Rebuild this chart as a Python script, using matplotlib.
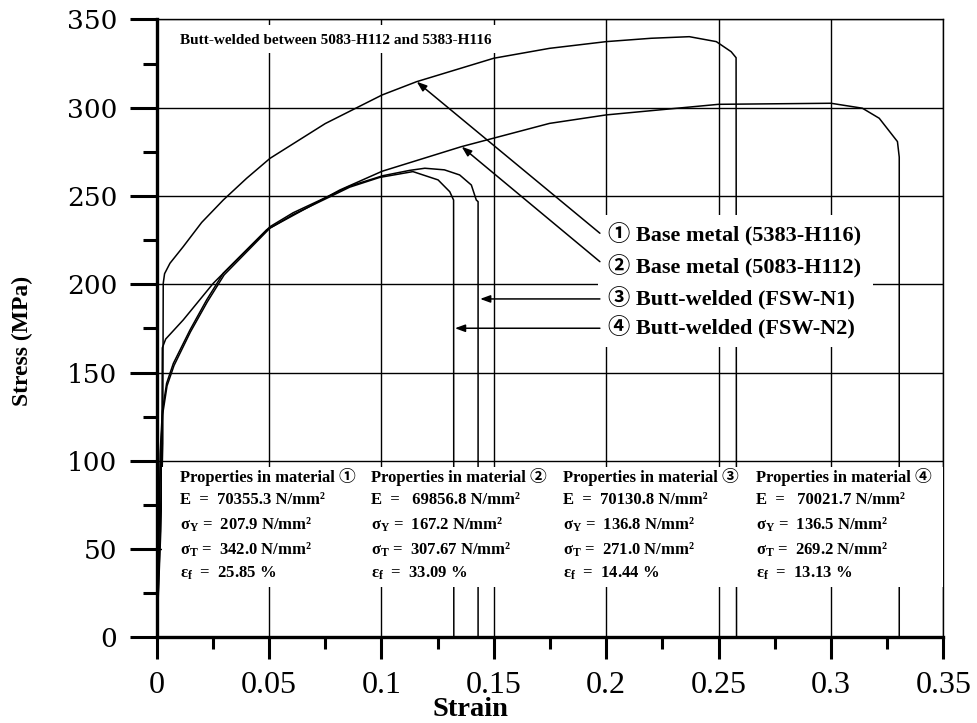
import matplotlib
matplotlib.use("Agg")
import matplotlib.pyplot as plt
from matplotlib.patches import Rectangle
from matplotlib.ticker import MultipleLocator

plt.rcParams["mathtext.fontset"] = "custom"
plt.rcParams["mathtext.rm"] = "Liberation Serif:bold"
plt.rcParams["mathtext.it"] = "Liberation Serif:bold"
plt.rcParams["mathtext.bf"] = "Liberation Serif:bold"

SERIF = ["Liberation Serif", "Noto Sans CJK JP", "DejaVu Sans"]

# ---- curves (strain, stress MPa) ----
c1_strain = [0, 0.0018, 0.0027, 0.0029, 0.0035, 0.0059, 0.0118, 0.0200, 0.0296, 0.0400,
             0.0504, 0.0750, 0.1003, 0.1156, 0.1500, 0.1748, 0.2000, 0.2200, 0.2370,
             0.2490, 0.2556, 0.2578, 0.2580]
c1_stress = [0, 60, 110, 200.5, 206, 211.9, 221.3, 235, 247.7, 260,
             271.3, 291, 307.2, 314.7, 328, 333.6, 337.4, 339.3, 340.2,
             337.4, 331.7, 328.3, 0]

c2_strain = [0, 0.0016, 0.0023, 0.0025, 0.0040, 0.0118, 0.0252, 0.0489, 0.0815, 0.1003,
             0.1355, 0.1748, 0.2000, 0.2500, 0.3000, 0.3140, 0.3215, 0.3296, 0.3304, 0.3304]
c2_stress = [0, 60, 110, 164, 169, 179.8, 200.6, 230.8, 253.4, 264,
             277.9, 291.1, 295.9, 301.9, 302.5, 299.7, 294, 280.8, 272, 0]

c3_strain = [0, 0.0010, 0.0016, 0.0025, 0.0044, 0.0074, 0.0148, 0.0222, 0.0296, 0.0504,
             0.0607, 0.0770, 0.0859, 0.1007, 0.1126, 0.1193, 0.1280, 0.1348, 0.1400,
             0.1422, 0.1430, 0.1430]
c3_stress = [0, 60, 106, 128, 143.9, 155.2, 174.1, 191.1, 206.2, 232.6,
             240.5, 250.2, 255.6, 261.5, 264.5, 265.7, 264.8, 261.9, 256.2,
             247.7, 246.8, 0]

c4_strain = [0, 0.0010, 0.0017, 0.0026, 0.0046, 0.0077, 0.0150, 0.0225, 0.0300, 0.0504,
             0.0607, 0.0770, 0.0859, 0.0992, 0.1140, 0.1252, 0.1304, 0.1321, 0.1322]
c4_stress = [0, 58, 104, 126, 142.5, 154, 173, 190, 205.3, 231.8,
             239.5, 249.5, 255, 260.5, 263.8, 259.1, 252.4, 247.7, 0]

labels = ["\u2460 Base metal (5383-H116)", "\u2461 Base metal (5083-H112)",
          "\u2462 Butt-welded (FSW-N1)", "\u2463 Butt-welded (FSW-N2)"]
# arrow tips on each curve
tip_strain = [0.1157, 0.1357, 0.1439, 0.1327]
tip_stress = [314.7, 277.9, 191.7, 175.1]

prop_titles = ["Properties in material \u2460", "Properties in material \u2461",
               "Properties in material \u2462", "Properties in material \u2463"]
E_vals = ["70355.3", " 69856.8", "70130.8", " 70021.7"]
sy_vals = ["207.9", "167.2", "136.8", "136.5"]
st_vals = ["342.0", "307.67", "271.0", "269.2"]
ef_vals = ["25.85", "33.09", "14.44", "13.13"]

fig = plt.figure(figsize=(9.77, 7.23), dpi=100)
ax = fig.add_axes([0.1604, 0.1183, 0.8051, 0.8549])

for xs, ys in [(c1_strain, c1_stress), (c2_strain, c2_stress),
               (c3_strain, c3_stress), (c4_strain, c4_stress)]:
    ax.plot(xs, ys, color="black", lw=1.1, zorder=3, solid_joinstyle="round")

ax.set_xlim(0, 0.35)
ax.set_ylim(0, 350)
ax.xaxis.set_major_locator(MultipleLocator(0.05))
ax.xaxis.set_minor_locator(MultipleLocator(0.025))
ax.yaxis.set_major_locator(MultipleLocator(50))
ax.yaxis.set_minor_locator(MultipleLocator(25))
ax.set_xticks([0, 0.05, 0.1, 0.15, 0.2, 0.25, 0.3, 0.35])
ax.set_xticklabels(["0", "0.05", "0.1", "0.15", "0.2", "0.25", "0.3", "0.35"])
ax.grid(True, which="major", color="black", lw=1.0, zorder=1)
ax.set_axisbelow(True)

for s in ["top", "right"]:
    ax.spines[s].set_linewidth(1.0)
for s in ["left", "bottom"]:
    ax.spines[s].set_linewidth(2.4)
    ax.spines[s].set_zorder(5)

ax.tick_params(axis="x", which="major", direction="out", length=16, width=2.2, pad=8,
               labelsize=23)
ax.tick_params(axis="x", which="minor", direction="out", length=8.5, width=2.2)
ax.tick_params(axis="y", which="major", direction="out", length=19.5, width=2.2, pad=9,
               labelsize=19)
ax.tick_params(axis="y", which="minor", direction="out", length=10, width=2.2)
for t in ax.get_xticklabels():
    t.set_fontfamily("Liberation Serif")
for t in ax.get_yticklabels():
    t.set_fontfamily("DejaVu Serif")

# white boxes that cut the grid behind the text blocks
ax.add_patch(Rectangle((0.0037, 330.8), 0.1513, 15.9, fc="white", ec="none", zorder=4))
ax.add_patch(Rectangle((0.1963, 164.5), 0.1224, 74.8, fc="white", ec="none", zorder=4))
ax.add_patch(Rectangle((0.0024, 28.8), 0.3476, 67.9, fc="white", ec="none", zorder=4))

ax.text(0.0104, 338.3, "Butt-welded between 5083-H112 and 5383-H116", fontsize=11,
        fontweight="bold", family=SERIF, va="center", ha="left", zorder=6)

label_y = [227.9, 210.0, 191.7, 175.1]
tail_y = [228.9, 212.8, 191.7, 175.1]
for lab, ly, ty, tx, tyy in zip(labels, label_y, tail_y, tip_strain, tip_stress):
    ax.text(0.2009, ly, lab, fontsize=16, fontweight="bold", family=SERIF,
            va="center", ha="left", zorder=6)
    ax.annotate("", xy=(tx, tyy), xytext=(0.1972, ty),
                arrowprops=dict(arrowstyle="-|>,head_length=0.6,head_width=0.22",
                                color="black", lw=1.1, shrinkA=0, shrinkB=0),
                zorder=6)

col_x = [0.0104, 0.0952, 0.1807, 0.2665]
row_y = [91.0, 77.9, 63.7, 49.5, 36.4]
for cx, pt, e, sy, st, ef in zip(col_x, prop_titles, E_vals, sy_vals, st_vals, ef_vals):
    rows = [pt,
            "E  =  " + e + " N/mm\u00b2",
            r"$\sigma_{Y}$ =  " + sy + " N/mm\u00b2",
            r"$\sigma_{T}$ =  " + st + " N/mm\u00b2",
            r"$\varepsilon_{f}$  =  " + ef + " %"]
    for txt, ry in zip(rows, row_y):
        ax.text(cx, ry, txt, fontsize=12, fontweight="bold", family=SERIF,
                va="center", ha="left", zorder=6)

fig.text(470 / 977, 1 - 716 / 723, "Strain", fontsize=20.5, fontweight="bold",
         family="Liberation Serif", ha="center", va="baseline")
fig.text(22 / 977, 1 - 341 / 723, "Stress (MPa)", fontsize=17, fontweight="bold",
         family="Liberation Serif", ha="center", va="center", rotation=90)

fig.savefig("out.png", dpi=100)
